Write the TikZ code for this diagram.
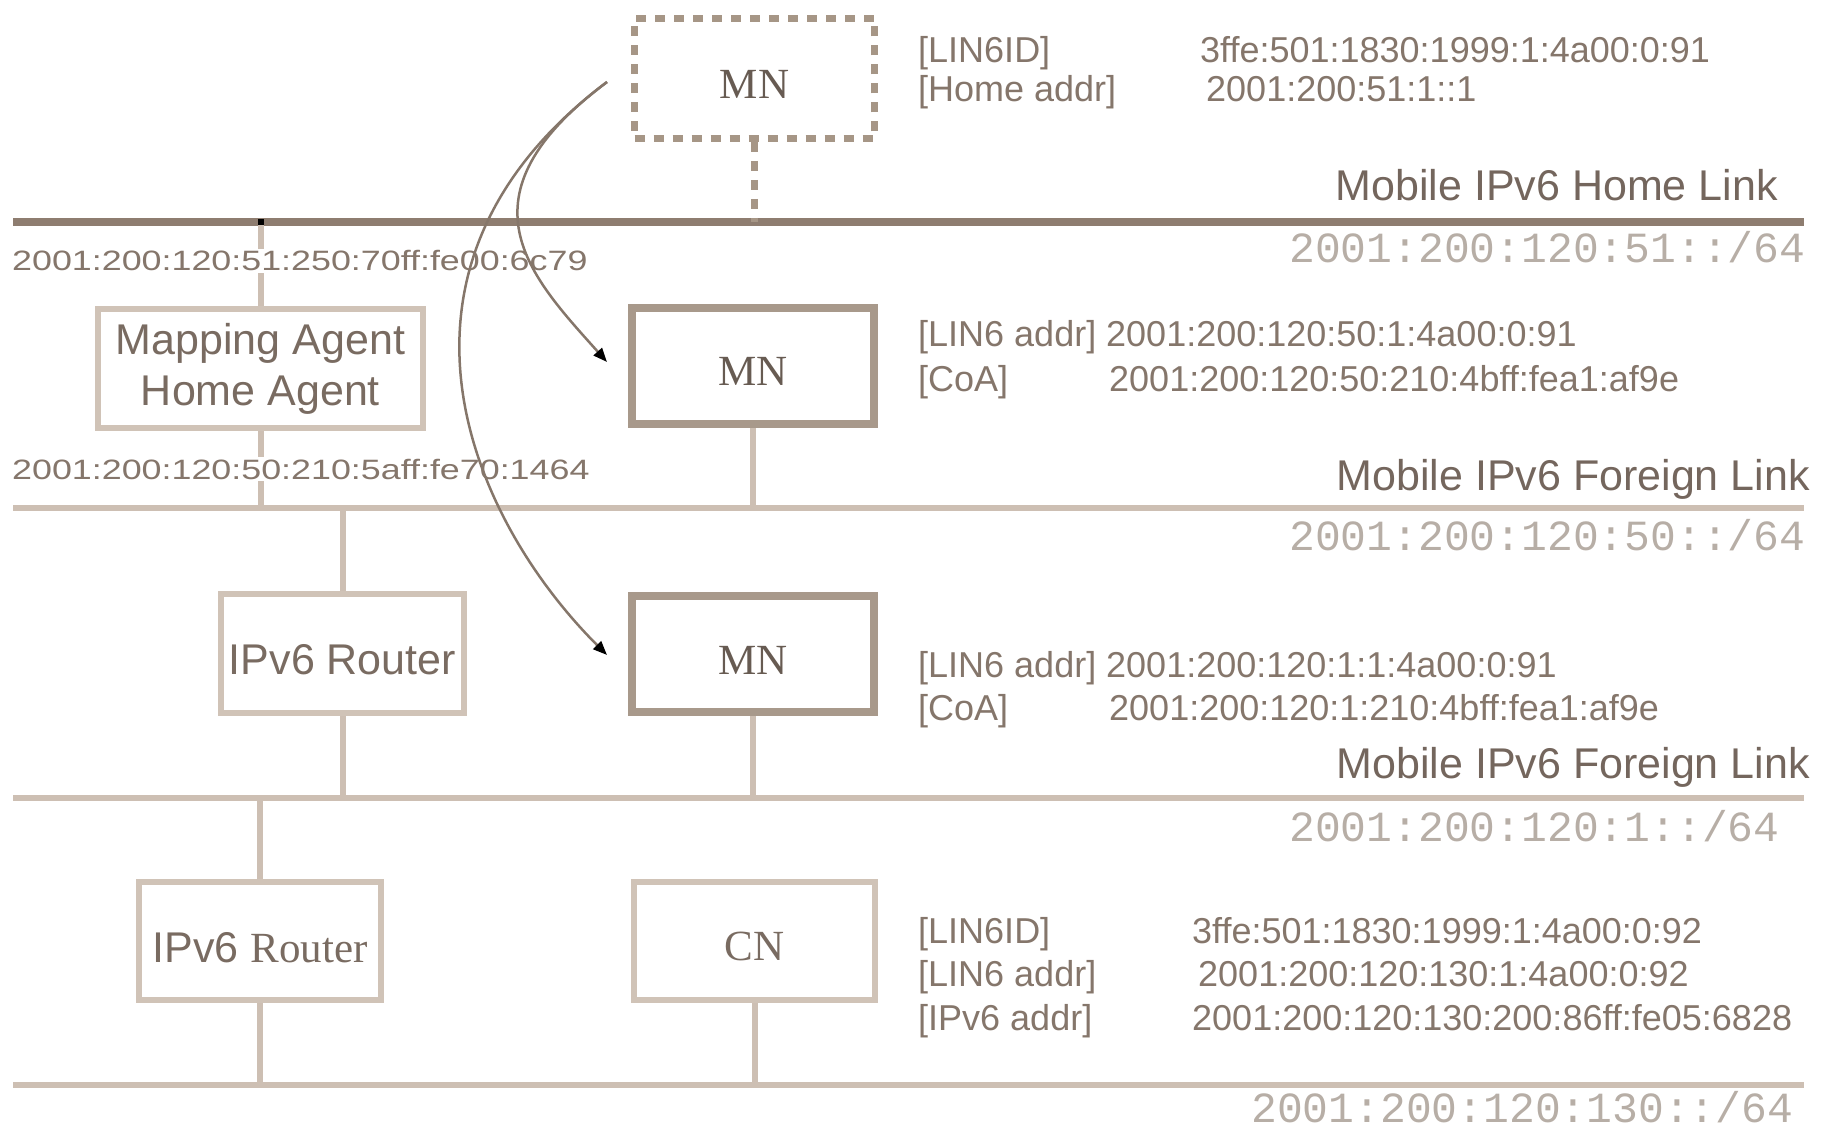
\documentclass[tikz,border=0pt]{standalone}
\usepackage{fontspec}
\setmainfont{Liberation Sans}
\newfontfamily\serifface{Liberation Serif}
\newfontfamily\monoface{Liberation Mono}
\usetikzlibrary{arrows.meta,calc}

\definecolor{homeline}{HTML}{8E7D70}
\definecolor{linkline}{HTML}{CDBFB3}
\definecolor{boxlight}{HTML}{D0C3B7}
\definecolor{boxdark}{HTML}{A8998B}
\definecolor{dotbox}{HTML}{A69686}
\definecolor{curvecol}{HTML}{85766A}
\definecolor{infotext}{HTML}{85766B}
\definecolor{linktext}{HTML}{74665D}
\definecolor{prefixtext}{HTML}{B7AEA6}
\definecolor{boxtext}{HTML}{796B61}

\begin{document}
\begin{tikzpicture}[x=1pt,y=-1pt,
  every node/.style={inner sep=0pt},
  lightbox/.style={draw=boxlight, line width=6pt, text=boxtext,
    font=\fontsize{43}{51}\selectfont, align=center},
  mnbox/.style={draw=boxdark, line width=8pt, text=boxtext!85!black,
    font=\serifface\fontsize{43}{48}\selectfont, text height=40pt,
    minimum width=242pt, minimum height=116pt},
  mnghost/.style={draw=dotbox, line width=7pt, dash pattern=on 10pt off 9pt,
    text=boxtext!85!black, font=\serifface\fontsize{43}{48}\selectfont,
    text height=40pt, minimum width=240pt, minimum height=120pt},
  homelinkline/.style={draw=homeline, line width=8pt},
  netline/.style={draw=linkline, line width=6pt},
  attachline/.style={draw=linkline, line width=6pt},
  ghostattach/.style={draw=dotbox, line width=7pt, dash pattern=on 10pt off 9pt},
  linkname/.style={text=linktext, font=\fontsize{43}{48}\selectfont, anchor=base east},
  netpfx/.style={text=prefixtext, font=\monoface\fontsize{43}{48}\selectfont, anchor=base west},
  infotxt/.style={text=infotext, font=\fontsize{36}{40}\selectfont, anchor=base west},
  ifaddr/.style={text=infotext, font=\fontsize{28}{32}\selectfont, anchor=base west,
    fill=white, inner sep=2pt},
  movearrow/.style={draw=curvecol, line width=2.5pt,
    -{Triangle[length=14pt,width=11pt,color=black]}}
]
\useasboundingbox (0,0) rectangle (1824,1131);

% ---- network segments ----
\coordinate (hlL) at (13,222);  \coordinate (hlR) at (1804,222);
\coordinate (f1L) at (13,508);  \coordinate (f1R) at (1804,508);
\coordinate (f2L) at (13,798);  \coordinate (f2R) at (1804,798);
\coordinate (btL) at (13,1085); \coordinate (btR) at (1804,1085);
\path[homelinkline] (hlL) -- (hlR);
\path[netline] (f1L) -- (f1R);
\path[netline] (f2L) -- (f2R);
\path[netline] (btL) -- (btR);

% ---- hosts and routers ----
\node[mnghost] (mnA) at (754.5,78.5) {MN};
\node[mnbox] (mnB) at (753,366) {MN};
\node[mnbox] (mnC) at (753,654) {MN};
\node[lightbox, font=\serifface\fontsize{43}{48}\selectfont, text height=40pt,
      minimum width=241pt, minimum height=118pt] (cn) at (754.5,941) {CN};
\node[lightbox, minimum width=325pt, minimum height=119pt] (maha) at (260.5,369)
  {Mapping Agent\\Home Agent};
\node[lightbox, text height=43pt, minimum width=243pt, minimum height=119pt] (rtA) at (342.5,653.5)
  {IPv6 Router};
\node[lightbox, text height=43pt, minimum width=242pt, minimum height=118pt] (rtB) at (260,941)
  {IPv6 {\serifface Router}};

% ---- attachments to the links ----
\path[ghostattach] (mnA.south) -- (mnA.south |- hlL);
\path[attachline] (mnB.south) -- (mnB.south |- f1L);
\path[attachline] (mnC.south) -- (mnC.south |- f2L);
\path[attachline] (cn.south) -- (cn.south |- btL);
\path[attachline] (maha.north) -- (maha.north |- hlL);
\path[attachline] (maha.south) -- (maha.south |- f1L);
\path[attachline] (rtA.north) -- (rtA.north |- f1L);
\path[attachline] (rtA.south) -- (rtA.south |- f2L);
\path[attachline] (rtB.north) -- (rtB.north |- f2L);
\path[attachline] (rtB.south) -- (rtB.south |- btL);
\fill[black] ($(maha.north |- hlL)+(-3,-3)$) rectangle ++(6,6);

% ---- interface addresses of the agent ----
\node[ifaddr] (haif) at (10,271) {\scalebox{1.28}[1]{2001:200:120:51:250:70ff:fe00:6c79}};
\node[ifaddr] (maif) at (10,479) {\scalebox{1.28}[1]{2001:200:120:50:210:5aff:fe70:1464}};

% ---- link names and prefixes ----
\node[linkname] (homename) at (1778,201) {Mobile IPv6 Home Link};
\node[linkname] (f1name) at (1810,490) {Mobile IPv6 Foreign Link};
\node[linkname] (f2name) at (1810,778) {Mobile IPv6 Foreign Link};
\node[netpfx] (homepfx) at (1289,263) {2001:200:120:51::/64};
\node[netpfx] (f1pfx) at (1289,550) {2001:200:120:50::/64};
\node[netpfx] (f2pfx) at (1289,841) {2001:200:120:1::/64};
\node[netpfx] (btpfx) at (1251,1122) {2001:200:120:130::/64};

% ---- node identifiers and addresses ----
\node[infotxt] (aIdK) at (918,63) {[LIN6ID]};
\node[infotxt] (aIdV) at (1200,63) {3ffe:501:1830:1999:1:4a00:0:91};
\node[infotxt] (aHoK) at (918,102) {[Home addr]};
\node[infotxt] (aHoV) at (1206,102) {2001:200:51:1::1};

\node[infotxt] (bLaK) at (918,347) {[LIN6 addr]};
\node[infotxt] (bLaV) at (1106,347) {2001:200:120:50:1:4a00:0:91};
\node[infotxt] (bCoK) at (918,392) {[CoA]};
\node[infotxt] (bCoV) at (1109,392) {2001:200:120:50:210:4bff:fea1:af9e};

\node[infotxt] (cLaK) at (918,677) {[LIN6 addr]};
\node[infotxt] (cLaV) at (1106,677) {2001:200:120:1:1:4a00:0:91};
\node[infotxt] (cCoK) at (918,720) {[CoA]};
\node[infotxt] (cCoV) at (1109,720) {2001:200:120:1:210:4bff:fea1:af9e};

\node[infotxt] (nIdK) at (918,943) {[LIN6ID]};
\node[infotxt] (nIdV) at (1192,943) {3ffe:501:1830:1999:1:4a00:0:92};
\node[infotxt] (nLaK) at (918,986) {[LIN6 addr]};
\node[infotxt] (nLaV) at (1198,986) {2001:200:120:130:1:4a00:0:92};
\node[infotxt] (nIpK) at (918,1030) {[IPv6 addr]};
\node[infotxt] (nIpV) at (1192,1030) {2001:200:120:130:200:86ff:fe05:6828};

% ---- movement of the mobile node ----
\coordinate (leave) at ($(mnA.west)+(-24,3.5)$);
\coordinate (arriveB) at ($(mnB.west)+(-21,-4)$);
\coordinate (arriveC) at ($(mnC.west)+(-21,1)$);
\draw[movearrow] (leave) .. controls +(-154,115) and +(-77,-86) .. (arriveB);
\draw[movearrow] (leave) .. controls +(-244,183) and +(-141,-141) .. (arriveC);
\end{tikzpicture}
\end{document}
